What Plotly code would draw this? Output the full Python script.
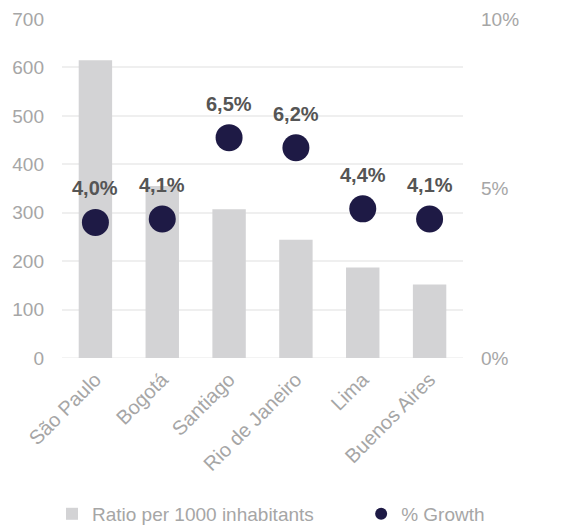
import plotly.graph_objects as go

cities = ["São Paulo", "Bogotá", "Santiago", "Rio de Janeiro", "Lima", "Buenos Aires"]
ratio = [615, 355, 307, 244, 187, 152]
growth = [4.0, 4.1, 6.5, 6.2, 4.4, 4.1]
growth_labels = ["4,0%", "4,1%", "6,5%", "6,2%", "4,4%", "4,1%"]
left_ticks = [0, 100, 200, 300, 400, 500, 600, 700]
right_ticks = [0, 5, 10]
right_tick_labels = ["0%", "5%", "10%"]

FONT = "Liberation Sans, Arial, sans-serif"
GREY = "#a6a6a6"

fig = go.Figure()
fig.add_trace(go.Bar(
    x=cities, y=ratio, name="Ratio per 1000 inhabitants",
    marker=dict(color="#d3d3d5", line=dict(width=0)),
    width=0.5, yaxis="y", legend="legend",
))
fig.add_trace(go.Scatter(
    x=cities, y=growth, name="% Growth", mode="markers",
    marker=dict(color="#1e1a45", size=27),
    yaxis="y2", legend="legend2",
))
for c, g, t in zip(cities, growth, growth_labels):
    fig.add_annotation(x=c, y=g, xref="x", yref="y2", text=t, showarrow=False,
                       yshift=34, font=dict(family=FONT, size=20, color="#555555", weight="bold"))

legend_common = dict(orientation="h", xanchor="left", y=-0.46, yanchor="middle",
                     font=dict(size=19, color=GREY), itemsizing="constant",
                     bgcolor="rgba(0,0,0,0)")

fig.update_layout(
    width=553, height=517,
    margin=dict(l=54, r=98, t=11, b=167, autoexpand=False),
    paper_bgcolor="white", plot_bgcolor="white",
    font=dict(family=FONT, color=GREY, size=19),
    showlegend=True,
    legend=dict(x=-0.025, **legend_common),
    legend2=dict(x=0.746, **legend_common),
    xaxis=dict(tickangle=-45, showgrid=False, showline=False, ticks="", automargin=False,
               tickfont=dict(size=20, color=GREY), range=[-0.5, 5.5], ticklabelstandoff=5),
    yaxis=dict(range=[0, 700], tickvals=left_ticks, showgrid=True, automargin=False,
               gridcolor="#efefef", gridwidth=1.5, zeroline=False,
               tickfont=dict(size=19, color=GREY), ticks="", ticklabelstandoff=17),
    yaxis2=dict(range=[0, 10], tickvals=right_ticks, ticktext=right_tick_labels,
                overlaying="y", side="right", showgrid=False, zeroline=False, automargin=False,
                tickfont=dict(size=19, color=GREY), ticks="", ticklabelstandoff=17),
    bargap=0.5,
)
fig.add_shape(type="line", xref="paper", yref="y", x0=0, x1=1, y0=0, y1=0,
              line=dict(color="#efefef", width=1.5), layer="below")

fig.write_html("out.html")
